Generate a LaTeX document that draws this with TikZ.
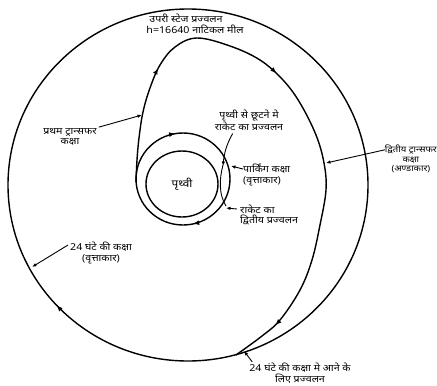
\documentclass[tikz,border=0pt]{standalone}
\usepackage{fontspec}
\newfontfamily\dev[Script=Devanagari, FakeStretch=1.12]{Noto Sans}
\usetikzlibrary{arrows.meta,decorations.markings,shapes.geometric}
\begin{document}
\begin{tikzpicture}[x=1pt,y=-1pt,
  orb/.style={line width=1.4pt},
  lbl/.style={font=\dev\fontsize{9.5}{10.5}\selectfont, inner sep=0pt, align=center},
  small/.style={font=\dev\fontsize{8.5}{9.5}\selectfont},
  ptr/.style={line width=0.9pt, -{Latex[length=4.5pt,width=3.5pt]}},
  tipf/.style={-{Latex[length=6pt,width=5pt]}}]
\useasboundingbox (0,0) rectangle (437,386);
% 24-hour orbit
\draw[orb, postaction={decorate}, decoration={markings,
   mark=at position 0.619 with {\arrowreversed{Latex[length=6pt,width=5pt]}}}]
   (188,185) ellipse [x radius=180pt, y radius=176pt];
% parking orbit
\draw[orb, postaction={decorate}, decoration={markings,
   mark=at position 0.277 with {\arrowreversed{Latex[length=6pt,width=5pt]}},
   mark=at position 0.785 with {\arrowreversed{Latex[length=6pt,width=5pt]}}}]
   (183,179) ellipse [x radius=47pt, y radius=46pt];
% earth
\node[draw, ellipse, line width=1.4pt, minimum width=72pt, minimum height=66pt, inner sep=0pt, font=\dev\fontsize{10.5}{11}\selectfont] (earth) at (182,184) {पृथ्वी};
% transfer orbits
\draw[orb, postaction={decorate}, decoration={markings,
   mark=at position 0.2 with {\arrow{Latex[length=6pt,width=5pt]}},
   mark=at position 0.44 with {\arrow{Latex[length=6pt,width=5pt]}},
   mark=at position 0.915 with {\arrow{Latex[length=6pt,width=5pt]}}}]
   plot[smooth, tension=0.6] coordinates {(136,182) (137,160) (139,138) (143,112) (150,88) (160,65) (175,47) (197,38) (230,46) (260,60) (283,80) (300,103) (316,135) (324,163) (326,190) (320,225) (312,260) (300,290) (280,320) (262,336) (236,355)};
% small departure stroke
\draw[line width=0.9pt] (223,165) .. controls (219,180) and (219,195) .. (226,206);
% labels
\node[lbl] (up1) at (186,18) {उपरी स्टेज प्रज्वलन};
\node[lbl] (up2) at (195,29) {h=16640 नाटिकल मील};
\node[lbl] (t1) at (70,137) {प्रथम ट्रान्सफर\\कक्षा};
\node[lbl] (esc) at (249,120) {पृथ्वी से छूटने मे\\राकेट का प्रज्वलन};
\node[lbl, align=left, anchor=west] (park) at (243,175) {पार्किंग कक्षा\\(वृत्ताकार)};
\node[lbl, align=left, anchor=west] (sec) at (240,215) {राकेट का\\द्वितीय प्रज्वलन};
\node[lbl, small, anchor=east] (t2) at (437,159) {द्वितीय ट्रान्सफर\\कक्षा\\(अण्डाकार)};
\node[lbl] (h24) at (101,253) {24 घंटे की कक्षा\\(वृत्ताकार)};
\node[lbl] (fin) at (300,373) {24 घंटे की कक्षा मे आने के\\लिए प्रज्वलन};
% pointer targets
\coordinate (pt1) at (142,115);
\coordinate (pt2) at (326,163);
\coordinate (p24) at (32,267);
\coordinate (ppark) at (231,166);
\coordinate (psec) at (226,208);
\coordinate (pesc) at (223,166);
\coordinate (pfin) at (244,351);
\draw[ptr] (t1.north east) ++(2,-1) coordinate (a1) -- (pt1);
\draw[ptr] (t2.north west) ++(0,5) coordinate (a2) -- (pt2);
\draw[ptr] (h24.north west) ++(-2,3) coordinate (a3) -- (p24);
\draw[ptr] (park.west) ++(0,-6) coordinate (a4) -- (ppark);
\draw[ptr] (sec.west) ++(-3,-6) coordinate (a5) -- (psec);
\draw[ptr] (esc.south west) ++(18,3) coordinate (a6) .. controls (226,145) and (224,155) .. (pesc);
\draw[ptr] (fin.north west) ++(3,-1) coordinate (a7) -- (pfin);
\end{tikzpicture}
\end{document}
